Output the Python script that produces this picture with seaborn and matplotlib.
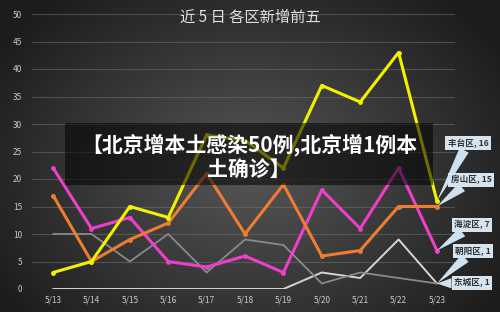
import numpy as np
import pandas as pd
import matplotlib
matplotlib.use("Agg")
import matplotlib.pyplot as plt
import seaborn as sns
from matplotlib.patches import Rectangle

dates = ["5/13", "5/14", "5/15", "5/16", "5/17", "5/18", "5/19", "5/20", "5/21", "5/22", "5/23"]
fengtai = [3, 5, 15, 13, 28, 27, 22, 37, 34, 43, 16]
fangshan = [17, 5, 9, 12, 21, 10, 19, 6, 7, 15, 15]
haidian = [22, 11, 13, 5, 4, 6, 3, 18, 11, 22, 7]
chaoyang = [10, 10, 5, 10, 3, 9, 8, 1, 3, 2, 1]
dongcheng = [0, 0, 0, 0, 0, 0, 0, 3, 2, 9, 1]
series_names = ["丰台区", "房山区", "海淀区", "朝阳区", "东城区"]
series_values = [fengtai, fangshan, haidian, chaoyang, dongcheng]
colors = ["#f2f200", "#ec7d32", "#ee3fc9", "#8a8a8a", "#d4d4d4"]
yticks = [0, 5, 10, 15, 20, 25, 30, 35, 40, 45, 50]
title = "近 5 日 各区新增前五"
banner = "【北京增本土感染50例,北京增1例本\n土确诊】"

sns.set_theme(style="dark")
plt.rcParams['font.family'] = ['Noto Sans CJK SC', 'DejaVu Sans']

rows = []
for name, vals in zip(series_names, series_values):
    for i, v in enumerate(vals):
        rows.append({"idx": i, "value": v, "区": name})
df = pd.DataFrame(rows)

W, H = 500, 312
fig = plt.figure(figsize=(5, 3.12), dpi=100)

# background radial gradient
bg = fig.add_axes([0, 0, 1, 1], zorder=0)
yy, xx = np.mgrid[0:H, 0:W]
r = np.sqrt(((xx - 250) / 300.0) ** 2 + ((yy - 170) / 230.0) ** 2)
r = np.clip(r, 0, 1)
c_in = np.array([0x56, 0x56, 0x56]) / 255
c_out = np.array([0x1c, 0x1c, 0x1c]) / 255
img = c_in[None, None, :] * (1 - r[..., None]) + c_out[None, None, :] * r[..., None]
bg.imshow(img, aspect="auto", extent=[0, 1, 0, 1])
bg.axis("off")

ax = fig.add_axes([32 / W, 1 - 289 / H, (455 - 32) / W, (289 - 14) / H], zorder=1)
ax.set_facecolor("none")
for y in yticks:
    ax.axhline(y, color="#6a6a6a", lw=0.8, alpha=0.6, zorder=0)

widths = {"丰台区": 2.2, "房山区": 2.2, "海淀区": 2.2, "朝阳区": 1.3, "东城区": 1.4}
msize = {"丰台区": 3.5, "房山区": 3.5, "海淀区": 3.5, "朝阳区": 0, "东城区": 0}
for name, col in list(zip(series_names, colors))[::-1]:
    sub = df[df["区"] == name]
    sns.lineplot(data=sub, x="idx", y="value", color=col, lw=widths[name],
                 marker="o" if msize[name] else None, markersize=msize[name],
                 markeredgewidth=0, ax=ax, legend=False, zorder=3)

ax.set_xlim(-0.55, 10.47)
ax.set_ylim(0, 50)
ax.set_xticks(range(len(dates)))
ax.set_xticklabels(dates)
ax.set_yticks(yticks)
ax.set_yticklabels([str(v) for v in yticks])
ax.tick_params(axis="both", colors="#c8c8c8", labelsize=6, length=0, pad=5)
ax.tick_params(axis="y", pad=7)
ax.set_xlabel("")
ax.set_ylabel("")
ax.grid(False)
for s in ax.spines.values():
    s.set_visible(False)

fig.text(250 / W, 1 - 17 / H, title, ha="center", va="center", fontsize=11,
         color="#e0e0e0", zorder=5)

# banner
fig.patches.append(Rectangle((65 / W, 1 - 185 / H), (433 - 65) / W, (185 - 123) / H,
                             transform=fig.transFigure, facecolor="black", alpha=0.55,
                             edgecolor="none", zorder=6))
fig.text(249 / W, 1 - 157 / H, banner, ha="center", va="center", fontsize=15,
         fontweight="bold", color="white", linespacing=1.2, zorder=7)

# callouts
label_pos = [(468, 143), (471, 180), (472, 225), (473, 251), (472, 283)]
for name, vals, (px, py) in zip(series_names, series_values, label_pos):
    ax.annotate(f"{name}, {vals[-1]}", xy=(10, vals[-1]), xytext=(px, H - py),
                textcoords="figure pixels", ha="center", va="center",
                fontsize=6.2, fontweight="bold", color="#333333",
                bbox=dict(boxstyle="square,pad=0.3", fc="#d6e4ef", ec="none"),
                arrowprops=dict(arrowstyle="wedge,tail_width=1.2", fc="#cfe0ee",
                                ec="none", shrinkA=0, shrinkB=0),
                zorder=8, annotation_clip=False)

fig.savefig("out.png", dpi=100)
